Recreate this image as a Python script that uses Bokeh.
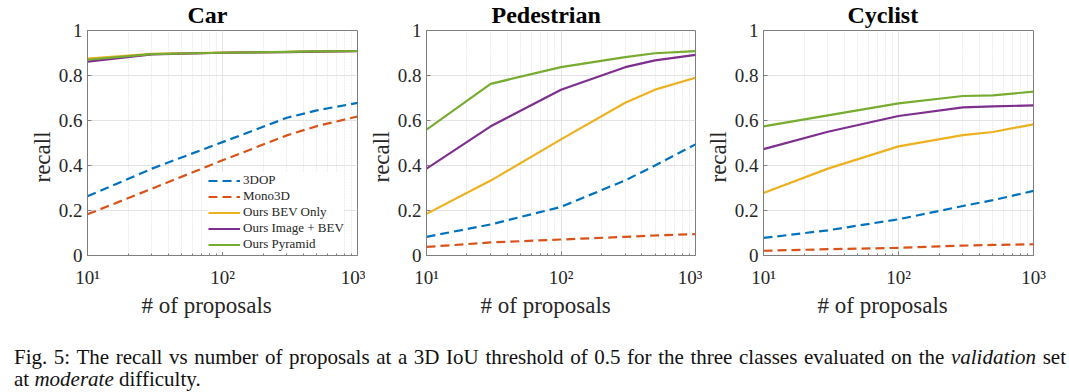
import json
from bokeh.plotting import figure
from bokeh.models import (FixedTicker, Legend, LegendItem, Div, Range1d,
                          CustomJSTickFormatter, Title)
from bokeh.layouts import row, column
from bokeh.embed import file_html
from bokeh.resources import INLINE

# ---------------- data ----------------
proposals = [10, 30, 100, 300, 500, 1000]

car_3dop = [0.263, 0.386, 0.504, 0.612, 0.645, 0.678]
car_mono3d = [0.183, 0.297, 0.423, 0.534, 0.575, 0.618]
car_bev = [0.875, 0.896, 0.902, 0.905, 0.907, 0.909]
car_img_bev = [0.862, 0.894, 0.901, 0.904, 0.906, 0.908]
car_pyramid = [0.870, 0.895, 0.901, 0.905, 0.907, 0.909]

ped_3dop = [0.083, 0.138, 0.216, 0.334, 0.400, 0.494]
ped_mono3d = [0.038, 0.058, 0.071, 0.083, 0.089, 0.095]
ped_bev = [0.185, 0.333, 0.516, 0.679, 0.737, 0.790]
ped_img_bev = [0.386, 0.574, 0.737, 0.837, 0.867, 0.892]
ped_pyramid = [0.559, 0.763, 0.837, 0.882, 0.899, 0.908]

cyc_3dop = [0.078, 0.112, 0.161, 0.220, 0.246, 0.287]
cyc_mono3d = [0.021, 0.028, 0.034, 0.044, 0.047, 0.050]
cyc_bev = [0.278, 0.386, 0.485, 0.535, 0.549, 0.583]
cyc_img_bev = [0.473, 0.550, 0.620, 0.658, 0.663, 0.667]
cyc_pyramid = [0.574, 0.623, 0.676, 0.709, 0.712, 0.728]

titles = ["Car", "Pedestrian", "Cyclist"]
x_label = "# of proposals"
y_label = "recall"
series_names = ["3DOP", "Mono3D", "Ours BEV Only", "Ours Image + BEV", "Ours Pyramid"]
colors = ["#0072BD", "#D95319", "#EDB120", "#7E2F8E", "#77AC30"]
dashes = ["9 5", "9 5", "solid", "solid", "solid"]

x_ticks = [10, 100, 1000]
x_minor = [20, 30, 40, 50, 60, 70, 80, 90, 200, 300, 400, 500, 600, 700, 800, 900]
x_tick_labels = ["10¹", "10²", "10³"]
y_ticks = [0, 0.2, 0.4, 0.6, 0.8, 1]
y_tick_labels = ["0", "0.2", "0.4", "0.6", "0.8", "1"]

caption_line1 = ("Fig. 5: The recall vs number of proposals at a 3D IoU threshold of 0.5 for the three "
                 "classes evaluated on the <i>validation</i> set")
caption_line2 = "at <i>moderate</i> difficulty."

panels = [
    [car_3dop, car_mono3d, car_bev, car_img_bev, car_pyramid],
    [ped_3dop, ped_mono3d, ped_bev, ped_img_bev, ped_pyramid],
    [cyc_3dop, cyc_mono3d, cyc_bev, cyc_img_bev, cyc_pyramid],
]

FONT = "Liberation Serif"
TXT = "#262626"
AX = "#7f7f7f"

widths = [365, 337, 359]
borders_left = [87, 60, 61]
title_offsets = [100, 65, 84]
FRAME_W = 270
FRAME_H = 225
TOP = 30
BOTTOM = 75


def fixed_labels(ticks, labels):
    mapping = json.dumps({str(float(t)): l for t, l in zip(ticks, labels)}, ensure_ascii=False)
    return CustomJSTickFormatter(code=f"""
        const m = {mapping};
        const v = parseFloat(tick.toPrecision(6));
        const k = Number.isInteger(v) ? v.toFixed(1) : String(v);
        return m[k] !== undefined ? m[k] : '';
    """)


figs = []
for i, (title, data) in enumerate(zip(titles, panels)):
    w = widths[i]
    bl = borders_left[i]
    p = figure(width=w, height=TOP + FRAME_H + BOTTOM, x_axis_type="log",
               x_range=Range1d(10, 1000), y_range=Range1d(0, 1),
               output_backend="svg", toolbar_location=None,
               min_border_left=bl, min_border_right=w - bl - FRAME_W,
               min_border_top=TOP, min_border_bottom=BOTTOM)
    p.title = Title(text=title, align="left", offset=title_offsets[i],
                    text_font=FONT, text_font_size="24px", text_font_style="bold",
                    text_color="black", standoff=2, vertical_align="top")
    p.outline_line_color = AX
    p.outline_line_width = 1
    p.background_fill_color = "white"
    p.border_fill_color = "white"

    xa = p.xaxis[0]
    xa.ticker = FixedTicker(ticks=x_ticks, minor_ticks=x_minor)
    xa.formatter = fixed_labels(x_ticks, x_tick_labels)
    ya = p.yaxis[0]
    ya.ticker = FixedTicker(ticks=y_ticks)
    ya.formatter = fixed_labels(y_ticks, y_tick_labels)
    for ax in (xa, ya):
        ax.axis_line_color = AX
        ax.major_tick_line_color = AX
        ax.minor_tick_line_color = AX
        ax.major_tick_in = 4
        ax.major_tick_out = 0
        ax.minor_tick_in = 2
        ax.minor_tick_out = 0
        ax.major_label_text_font = FONT
        ax.major_label_text_font_size = "19px"
        ax.major_label_text_color = TXT
    xa.major_label_standoff = 11
    ya.major_label_standoff = 5

    p.add_layout(Title(text=x_label, align="left", offset=54, text_font=FONT,
                       text_font_size="23px", text_font_style="normal",
                       text_color=TXT, vertical_align="top", standoff=5), "below")
    p.add_layout(Title(text=y_label, align="left", offset=73, text_font=FONT,
                       text_font_size="23px", text_font_style="normal",
                       text_color=TXT, vertical_align="bottom", standoff=2), "left")

    p.xgrid.grid_line_color = "#e3e3e3"
    p.xgrid.minor_grid_line_color = "#ececec"
    p.xgrid.minor_grid_line_dash = "2 1"
    p.ygrid.grid_line_color = "#e3e3e3"

    renderers = []
    for name, ys, c, d in zip(series_names, data, colors, dashes):
        r = p.line(proposals, ys, line_color=c, line_width=2.2, line_dash=d)
        renderers.append((name, r))

    if i == 0:
        legend = Legend(items=[LegendItem(label=n, renderers=[r]) for n, r in renderers],
                        location=(121, 3), orientation="vertical",
                        label_text_font=FONT, label_text_font_size="13px",
                        label_text_color=TXT, label_text_line_height=1.0,
                        glyph_width=32, glyph_height=13,
                        label_height=13, label_standoff=3, spacing=0, padding=2,
                        margin=0, border_line_color=None,
                        background_fill_color="white", background_fill_alpha=1)
        p.add_layout(legend)
    figs.append(p)

cap_style = {"font-family": "Liberation Serif", "font-size": "21px", "color": "#111",
             "line-height": "22px", "margin-left": "14px", "margin-top": "16px"}
cap = Div(text=(f"<div style='width:1052px;text-align:justify;text-align-last:justify;'>"
                f"{caption_line1}</div><div>{caption_line2}</div>"),
          width=1052, styles=cap_style)

layout = column(row(*figs, spacing=0), cap, spacing=0)

open("out.html", "w").write(file_html(layout, INLINE))
